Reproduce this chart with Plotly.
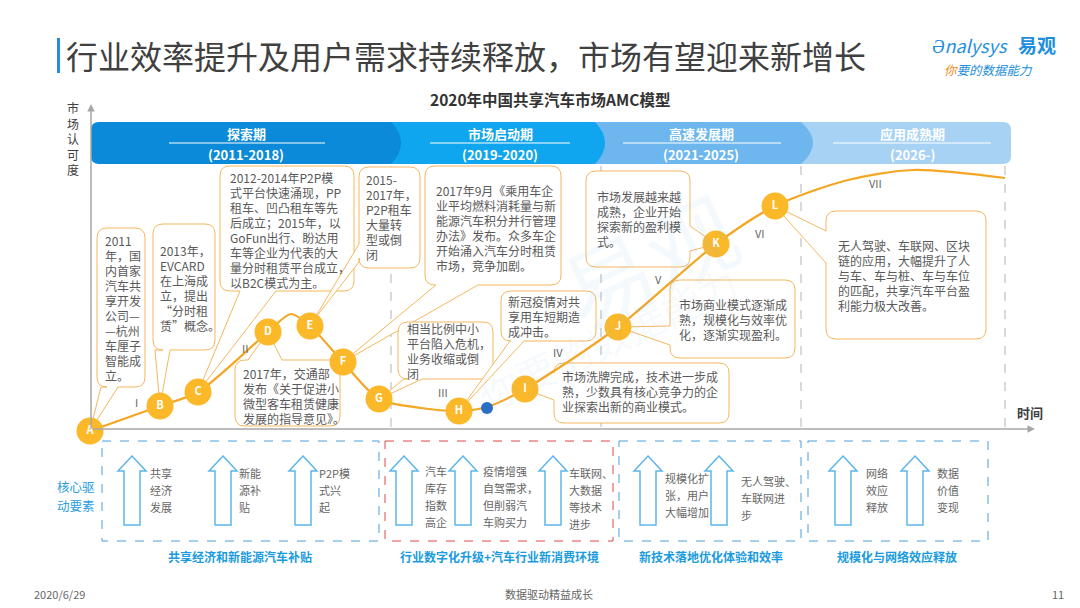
import plotly.graph_objects as go

FONT = "Noto Sans CJK SC"

# ---- data -------------------------------------------------------------
# curve of market recognition (pixel-space reading of the reference)
curve_x = [82, 152, 190, 260, 283, 302, 335, 371, 413, 451, 479, 517, 610, 708, 767, 840, 905, 997]
curve_y = [423, 398, 384, 324, 306, 318, 354, 391, 400, 403, 399, 381, 319, 236, 198, 172, 162, 170]

node_labels = ["A", "B", "C", "D", "E", "F", "G", "H", "I", "J", "K", "L"]
node_x = [82, 152, 190, 260, 302, 335, 371, 451, 517, 610, 708, 767]
node_y = [423, 398, 384, 324, 318, 354, 391, 403, 381, 319, 236, 198]

stage_numerals = ["I", "II", "III", "IV", "V", "VI", "VII"]
stage_x = [128, 237, 435, 550, 650, 752, 867]
stage_y = [394, 340, 384, 344, 271, 225, 175]

phase_names = ["探索期", "市场启动期", "高速发展期", "应用成熟期"]
phase_years = ["(2011-2018)", "(2019-2020)", "(2021-2025)", "(2026-)"]

callouts = [
    ["2011", "年，国", "内首家", "汽车共", "享开发", "公司—", "—杭州", "车厘子", "智能成", "立。"],
    ["2013年，", "EVCARD", "在上海成", "立，提出", "“分时租", "赁”概念。"],
    ["2012-2014年P2P模", "式平台快速涌现，PP", "租车、凹凸租车等先", "后成立；2015年，以",
     "GoFun出行、盼达用", "车等企业为代表的大", "量分时租赁平台成立，", "以B2C模式为主。"],
    ["2015-", "2017年，", "P2P租车", "大量转", "型或倒", "闭"],
    ["2017年9月《乘用车企", "业平均燃料消耗量与新", "能源汽车积分并行管理", "办法》发布。众多车企",
     "开始涌入汽车分时租赁", "市场，竞争加剧。"],
    ["2017年，交通部", "发布《关于促进小", "微型客车租赁健康", "发展的指导意见》。"],
    ["相当比例中小", "平台陷入危机，", "业务收缩或倒", "闭"],
    ["新冠疫情对共", "享用车短期造", "成冲击。"],
    ["市场洗牌完成，技术进一步成", "熟，少数具有核心竞争力的企", "业探索出新的商业模式。"],
    ["市场发展越来越", "成熟，企业开始", "探索新的盈利模", "式。"],
    ["市场商业模式逐渐成", "熟，规模化与效率优", "化，逐渐实现盈利。"],
    ["无人驾驶、车联网、区块", "链的应用，大幅提升了人", "与车、车与桩、车与车位",
     "的匹配，共享汽车平台盈", "利能力极大改善。"],
]

drivers = [
    [["共享", "经济", "发展"], ["新能", "源补", "贴"], ["P2P模", "式兴", "起"]],
    [["汽车", "库存", "指数", "高企"], ["疫情增强", "自驾需求，", "但削弱汽", "车购买力"],
     ["车联网、", "大数据", "等技术", "进步"]],
    [["规模化扩", "张，用户", "大幅增加"], ["无人驾驶、", "车联网进", "步"]],
    [["网络", "效应", "释放"], ["数据", "价值", "变现"]],
]
driver_groups = ["共享经济和新能源汽车补贴", "行业数字化升级+汽车行业新消费环境",
                 "新技术落地优化体验和效率", "规模化与网络效应释放"]

# ---- layout helpers ---------------------------------------------------
shapes = []
annos = []


def text(x, y, s, size=12, color="#595959", bold=False, xanchor="left", yanchor="middle", **kw):
    if bold:
        s = "<b>" + s + "</b>"
    annos.append(dict(x=x, y=y, xref="x", yref="y", text=s, showarrow=False,
                      xanchor=xanchor, yanchor=yanchor,
                      font=dict(family=FONT, size=size, color=color), **kw))


def lines(x, y0, dy, rows, size=12, color="#595959", xanchor="left", bold=False):
    for i, r in enumerate(rows):
        text(x, y0 + i * dy, r, size=size, color=color, xanchor=xanchor, bold=bold)


def bubble(x0, y0, x1, y1, side, b0, b1, tip, r=10):
    tx, ty = tip
    p = f"M {x0 + r},{y0}"
    if side == "top":
        p += f" L {b0},{y0} L {tx},{ty} L {b1},{y0}"
    p += f" L {x1 - r},{y0} Q {x1},{y0} {x1},{y0 + r}"
    if side == "right":
        p += f" L {x1},{b0} L {tx},{ty} L {x1},{b1}"
    p += f" L {x1},{y1 - r} Q {x1},{y1} {x1 - r},{y1}"
    if side == "bottom":
        p += f" L {b1},{y1} L {tx},{ty} L {b0},{y1}"
    p += f" L {x0 + r},{y1} Q {x0},{y1} {x0},{y1 - r}"
    if side == "left":
        p += f" L {x0},{b1} L {tx},{ty} L {x0},{b0}"
    p += f" L {x0},{y0 + r} Q {x0},{y0} {x0 + r},{y0} Z"
    shapes.append(dict(type="path", path=p, xref="x", yref="y", layer="below",
                       fillcolor="white", line=dict(color="#f5b75e", width=1)))


def up_arrow(cx, top=448, bot=517, hw=14, sw=8, hh=15):
    p = (f"M {cx},{top} L {cx + hw},{top + hh} L {cx + sw},{top + hh} L {cx + sw},{bot} "
         f"L {cx - sw},{bot} L {cx - sw},{top + hh} L {cx - hw},{top + hh} Z")
    shapes.append(dict(type="path", path=p, xref="x", yref="y", layer="below",
                       fillcolor="white", line=dict(color="#5db5ea", width=1.5)))


# ---- header -----------------------------------------------------------
shapes.append(dict(type="rect", x0=49, x1=52, y0=30, y1=65, xref="x", yref="y",
                   fillcolor="#2a8bd8", line=dict(width=0)))
text(56, 47, "行业效率提升及用户需求持续释放，市场有望迎来新增长", size=32, color="#404040")
text(922, 37, "<i>Ənalysys</i>", size=18, color="#1e8fdc")
text(1008, 36, "易观", size=19, color="#1e8fdc", bold=True)
text(934, 61, "<i><span style='color:#f08a24'>你</span>要的数据能力</i>", size=12.5, color="#1e8fdc")
text(542, 91, "2020年中国共享汽车市场AMC模型", size=15.5, color="#333333", bold=True, xanchor="center")

# faint watermark
text(640, 250, "易观", size=90, color="rgba(120,185,235,0.09)", xanchor="center", textangle=-25)
text(600, 330, "你要的数据能力", size=40, color="rgba(120,185,235,0.07)", xanchor="center", textangle=-25)

# ---- phase banner -----------------------------------------------------
phase_paths = [
    ("M 785,114 L 995,114 Q 1003,114 1003,122 L 1003,148 Q 1003,156 995,156 L 785,156 Z", "#a8d2f4"),
    ("M 580,114 L 793,114 Q 817,135 793,156 L 580,156 Z", "#6db7ee"),
    ("M 375,114 L 587,114 Q 607,135 587,156 L 375,156 Z", "#10a5ef"),
    ("M 91,114 L 383,114 Q 403,135 383,156 L 91,156 Q 83,156 83,148 L 83,122 Q 83,114 91,114 Z", "#0a8ad8"),
]
for p, c in phase_paths:
    shapes.append(dict(type="path", path=p, xref="x", yref="y", fillcolor=c, line=dict(width=0)))

phase_cx = [238, 492, 693, 904]
phase_ul = [(161, 317), (422, 562), (615, 773), (825, 983)]
for name, yr, cx, (u0, u1) in zip(phase_names, phase_years, phase_cx, phase_ul):
    text(cx, 125, name, size=13, color="white", bold=True, xanchor="center")
    text(cx, 146, yr, size=13, color="white", bold=True, xanchor="center")
    shapes.append(dict(type="line", x0=u0, x1=u1, y0=135, y1=135, xref="x", yref="y",
                       line=dict(color="white", width=1)))

# ---- axes ------------------------------------------------------------
for vx in [383, 593, 793, 997]:
    shapes.append(dict(type="line", x0=vx, x1=vx, y0=158, y1=420, xref="x", yref="y", layer="below",
                       line=dict(color="#a0a0a0", width=0.8, dash="dash")))
annos.append(dict(x=83, y=96, ax=83, ay=422, xref="x", yref="y", axref="x", ayref="y", text="",
                  showarrow=True, arrowhead=2, arrowsize=1, arrowwidth=1.5, arrowcolor="#a6a6a6"))
annos.append(dict(x=1027, y=421, ax=83, ay=421, xref="x", yref="y", axref="x", ayref="y", text="",
                  showarrow=True, arrowhead=2, arrowsize=1, arrowwidth=1.5, arrowcolor="#a6a6a6"))
text(65, 130, "<br>".join("市场认可度"), size=12, color="#404040", xanchor="center")
text(1022, 404, "时间", size=13, color="#404040", bold=True, xanchor="center")

# ---- callout bubbles ---------------------------------------------------
bubbles = [
    ((89, 220, 137, 379), "bottom", 93, 110, (82, 423)),
    ((145, 216, 207, 342), "bottom", 147, 162, (152, 398)),
    ((212, 158, 346, 283), "bottom", 232, 268, (190, 384)),
    ((351, 159, 412, 260), "left", 236, 254, (305, 313)),
    ((417, 158, 553, 277), "bottom", 428, 470, (335, 354)),
    ((227, 352, 332, 418), "top", 240, 274, (260, 324)),
    ((390, 314, 485, 371), "bottom", 396, 414, (371, 391)),
    ((493, 283, 588, 333), "bottom", 502, 516, (451, 403)),
    ((546, 355, 721, 415), "left", 362, 392, (517, 381)),
    ((578, 163, 682, 259), "right", 218, 243, (708, 236)),
    ((662, 272, 787, 350), "left", 318, 337, (610, 319)),
    ((818, 203, 978, 331), "left", 223, 255, (767, 198)),
]
text_origin = [(95, 232), (150, 242), (220, 169), (356, 171), (426, 182), (233, 365),
               (397, 320), (498, 293), (552, 368), (587, 188), (669, 296), (828, 237)]
for (box, side, b0, b1, tip), rows, (tx, ty) in zip(bubbles, callouts, text_origin):
    bubble(*box, side, b0, b1, tip)
    lines(tx, ty, 15, rows, size=12)

for s, x, y in zip(stage_numerals, stage_x, stage_y):
    text(x, y, s, size=11, color="#666666", xanchor="center")

# ---- bottom driver boxes -----------------------------------------------
group_boxes = [(94, 371, "#4a9fd8"), (377, 605, "#e04848"), (611, 793, "#4a9fd8"), (800, 980, "#4a9fd8")]
for x0, x1, c in group_boxes:
    shapes.append(dict(type="rect", x0=x0, x1=x1, y0=433, y1=533, xref="x", yref="y", layer="below",
                       fillcolor="rgba(0,0,0,0)", line=dict(color=c, width=1, dash="dash")))

arrow_cx = [[124, 215, 295], [396, 455, 545], [640, 711], [835, 907]]
label_x = [[140, 229, 309], [415, 473, 559], [655, 731], [856, 927]]
label_y0 = [[465, 465, 465], [463, 463, 465], [470, 473], [465, 465]]
for g in range(len(drivers)):
    for cx, lx, ly, rows in zip(arrow_cx[g], label_x[g], label_y0[g], drivers[g]):
        up_arrow(cx)
        lines(lx, ly, 17, rows, size=11, color="#666666")

group_cx = [232, 491, 703, 889]
for name, cx in zip(driver_groups, group_cx):
    text(cx, 548, name, size=12, color="#1a9be0", bold=True, xanchor="center")
lines(68, 478, 19, ["核心驱", "动要素"], size=12.5, color="#2a9de0", xanchor="center")

# ---- footer ------------------------------------------------------------
text(24, 586, "2020/6/29", size=11, color="#666666")
text(541, 586, "数据驱动精益成长", size=11, color="#666666", xanchor="center")
text(1058, 586, "11", size=11, color="#666666", xanchor="right")

# ---- traces ------------------------------------------------------------
fig = go.Figure()
fig.add_trace(go.Scatter(x=curve_x, y=curve_y, mode="lines", hoverinfo="skip",
                         line=dict(color="#f5a623", width=2.2, shape="spline", smoothing=0.8)))
fig.add_trace(go.Scatter(x=node_x, y=node_y, mode="markers+text", text=node_labels,
                         textposition="middle center",
                         textfont=dict(family=FONT, size=11, color="white", weight="bold"),
                         marker=dict(size=27, color="#fbb829", line=dict(width=0))))
fig.add_trace(go.Scatter(x=[479], y=[400], mode="markers",
                         marker=dict(size=12, color="#2a6fc4")))

fig.update_layout(
    width=1080, height=608, margin=dict(l=0, r=0, t=0, b=0),
    paper_bgcolor="white", plot_bgcolor="white", showlegend=False,
    xaxis=dict(range=[0, 1080], visible=False, fixedrange=True),
    yaxis=dict(range=[608, 0], visible=False, fixedrange=True),
    shapes=shapes, annotations=annos,
)
fig.write_html("out.html")
